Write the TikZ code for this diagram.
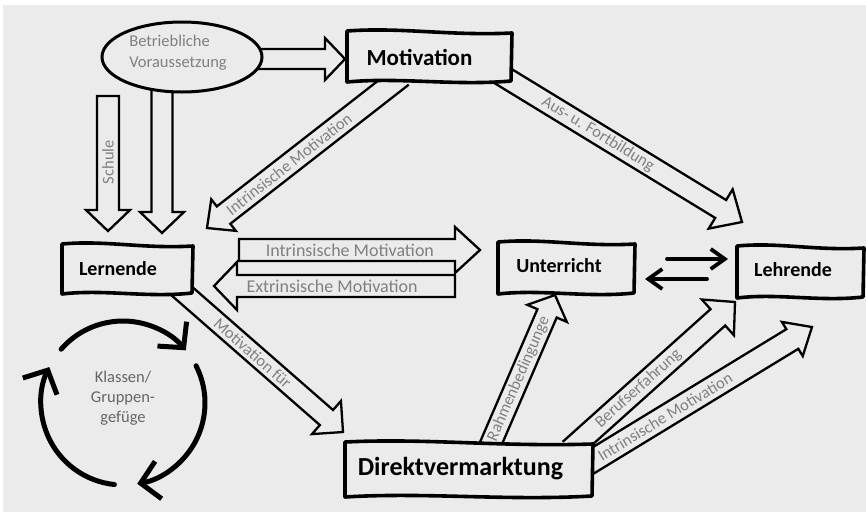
\documentclass[tikz,border=0pt]{standalone}
\usepackage{fontspec}
\setmainfont{Carlito}
\usetikzlibrary{shapes.geometric,arrows.meta,calc}
\definecolor{bgc}{HTML}{EBEBEB}
\definecolor{lblc}{HTML}{808080}
\definecolor{cycc}{HTML}{666666}
\newif\ifbclosed
\pgfkeys{/barrow/.cd,
  hs/.store in=\bhs, hh/.store in=\bhh, hl/.store in=\bhl,
  label/.store in=\blabel, pos/.store in=\bpos, off/.store in=\boff,
  closed/.code={\bclosedtrue}}
\newcommand\barrow[3][]{%
  \begingroup
  \bclosedfalse
  \pgfkeys{/barrow/.cd, hs=11, hh=22, hl=21, label={}, pos=0.5, off=0, #1}%
  \pgfpointdiff{\pgfpointanchor{#2}{center}}{\pgfpointanchor{#3}{center}}%
  \pgfgetlastxy\bdx\bdy
  \pgfmathsetmacro\bang{atan2(\bdy,\bdx)}%
  \pgfmathsetmacro\blen{veclen(\bdx,\bdy)}%
  \pgfmathsetmacro\bflip{(\bang>90.5 || \bang<-89.5) ? 180 : 0}%
  \pgfmathsetmacro\ba{\blen-\bhl}%
  \pgfmathsetmacro\blx{\blen*\bpos}%
  \begin{scope}[shift={(#2)}, rotate=\bang]
    \ifbclosed
      \draw[arrline] (0,\bhs) -- (\ba,\bhs) -- (\ba,\bhh) -- (\blen,0) -- (\ba,-\bhh) -- (\ba,-\bhs) -- (0,-\bhs) -- cycle;
    \else
      \draw[arrline] (0,\bhs) -- (\ba,\bhs) -- (\ba,\bhh) -- (\blen,0) -- (\ba,-\bhh) -- (\ba,-\bhs) -- (0,-\bhs);
    \fi
    \node[lbl, transform shape, rotate=\bflip] at (\blx,\boff) {\blabel};
  \end{scope}
  \endgroup
}
% wavy hand-drawn box: name, cx, cy, width, height
\newcommand\wbox[5]{%
  \node[minimum width=#4pt, minimum height=#5pt, inner sep=0pt, outer sep=0pt] (#1) at (#2,#3) {};
  \draw[boxline]
    ($(#1.north west)+(0,-1)$)
      .. controls ($(#1.north west)!0.33!(#1.north east)+(0,-5)$) and ($(#1.north west)!0.62!(#1.north east)+(0,4)$) ..
    ($(#1.north east)+(0,1)$)
    -- ($(#1.south east)+(-1,0)$)
      .. controls ($(#1.south east)!0.35!(#1.south west)+(0,5)$) and ($(#1.south east)!0.68!(#1.south west)+(0,-4)$) ..
    ($(#1.south west)+(0,1)$)
    -- cycle;
}
\begin{document}
\begin{tikzpicture}[x=1pt,y=-1pt,
  arrline/.style={line width=2.3pt, line join=miter, draw=black},
  lbl/.style={text=lblc, font=\fontsize{16.5}{20}\selectfont, inner sep=0pt},
  boxline/.style={draw=black, line width=3.6pt, fill=bgc, line join=round},
  boxtext/.style={font=\bfseries\fontsize{20}{24}\selectfont, inner sep=0pt},
  ell/.style={ellipse, draw, line width=3pt, fill=bgc, inner sep=0pt},
  cyc/.style={line width=5pt, line cap=round, -{Straight Barb[length=18pt, width=38pt]}},
  thinarr/.style={line width=3.8pt, line cap=round, -{Straight Barb[length=14pt, width=20pt]}}
]
\useasboundingbox (0,0) rectangle (866,512);
\fill[white] (0,0) rectangle (866,512);
\fill[bgc] (3,5) rectangle (866,512);

% coordinates for block arrows
\coordinate (e1s) at (255,59);  \coordinate (e1e) at (345,59);
\coordinate (sch1) at (108,96); \coordinate (sch2) at (108,231);
\coordinate (d2s) at (162,86);  \coordinate (d2e) at (162,233);
\coordinate (m1s) at (402,76);  \coordinate (m1e) at (207,228);
\coordinate (m2s) at (498,73);  \coordinate (m2e) at (742,222);
\coordinate (h1s) at (239,250); \coordinate (h1e) at (480,250);
\coordinate (h2s) at (455,286); \coordinate (h2e) at (214,286);
\coordinate (l1s) at (176,286); \coordinate (l1e) at (343,432);
\coordinate (r1s) at (488,450); \coordinate (r1e) at (555,295);
\coordinate (b1s) at (570,450); \coordinate (b1e) at (735,302);
\coordinate (i1s) at (584,466); \coordinate (i1e) at (812,327);

\barrow[hs=10, hh=21, hl=20]{e1s}{e1e}
\barrow[hs=11, hh=22, hl=21, closed, label=Schule, pos=0.49]{sch1}{sch2}
\barrow[hs=10.5, hh=22, hl=21]{d2s}{d2e}
\barrow[hs=11, hh=20, hl=21, label=Intrinsische Motivation, pos=0.58]{m1s}{m1e}
\barrow[hs=10.5, hh=23, hl=25, label=Aus- u. Fortbildung, pos=0.41]{m2s}{m2e}
\barrow[hs=11, hh=23, hl=25, closed, label={\fontsize{18}{20}\selectfont Intrinsische Motivation}, pos=0.46]{h1s}{h1e}
\barrow[hs=11, hh=24, hl=23, closed, label={\fontsize{18}{20}\selectfont Extrinsische Motivation}, pos=0.51]{h2s}{h2e}
\barrow[hs=10, hh=22, hl=22, label=Motivation für, pos=0.46]{l1s}{l1e}
\barrow[hs=10.5, hh=21.5, hl=20, label=Rahmenbedingunge, pos=0.46]{r1s}{r1e}
\barrow[hs=11, hh=24, hl=23, label=Berufserfahrung, pos=0.415]{b1s}{b1e}
\barrow[hs=11.5, hh=20, hl=23, label=Intrinsische Motivation, pos=0.355]{i1s}{i1e}

% ellipse
\node[ell, minimum width=160pt, minimum height=70pt] (betr) at (182,57) {};
\node[lbl, align=left, font=\fontsize{16.5}{21}\selectfont] (betrtext) at (178,52.5) {Betriebliche\\Voraussetzung};

% boxes
\wbox{motiv}{429.5}{56.5}{165}{49}
\node[boxtext, font=\bfseries\fontsize{23}{26}\selectfont] (motivtext) at (419.5,57) {Motivation};
\wbox{lern}{127.5}{269}{131}{48}
\node[boxtext] (lerntext) at (118,269) {Lernende};
\wbox{unter}{566.5}{268}{137}{50}
\node[boxtext] (untertext) at (559,266) {Unterricht};
\wbox{lehr}{800.5}{272}{127}{50}
\node[boxtext] (lehrtext) at (793,270) {Lehrende};
\wbox{direkt}{469}{469.5}{248}{53}
\node[boxtext, font=\bfseries\fontsize{26}{30}\selectfont] (direkttext) at (460.5,469) {Direktvermarktung};

% thin arrows between Unterricht and Lehrende
\coordinate (t1s) at (667,259); \coordinate (t1e) at (728,259);
\coordinate (t2s) at (707,279); \coordinate (t2e) at (645,279);
\draw[thinarr] (t1s) -- (t1e);
\draw[thinarr] (t2s) -- (t2e);

% cycle
\coordinate (cycc) at (123,403);
\draw[cyc] ([shift={(-139:82)}]cycc) arc[start angle=-139, end angle=-40, radius=82];
\draw[cyc] ([shift={(-27:82)}]cycc) arc[start angle=-27, end angle=80, radius=82];
\draw[cyc] ([shift={(96:82)}]cycc) arc[start angle=96, end angle=206, radius=82];
\node[text=cycc, align=center, inner sep=0pt, font=\fontsize{16.5}{20}\selectfont] (cyctext) at (123,398) {Klassen/\\Gruppen-\\gefüge};
\end{tikzpicture}
\end{document}
